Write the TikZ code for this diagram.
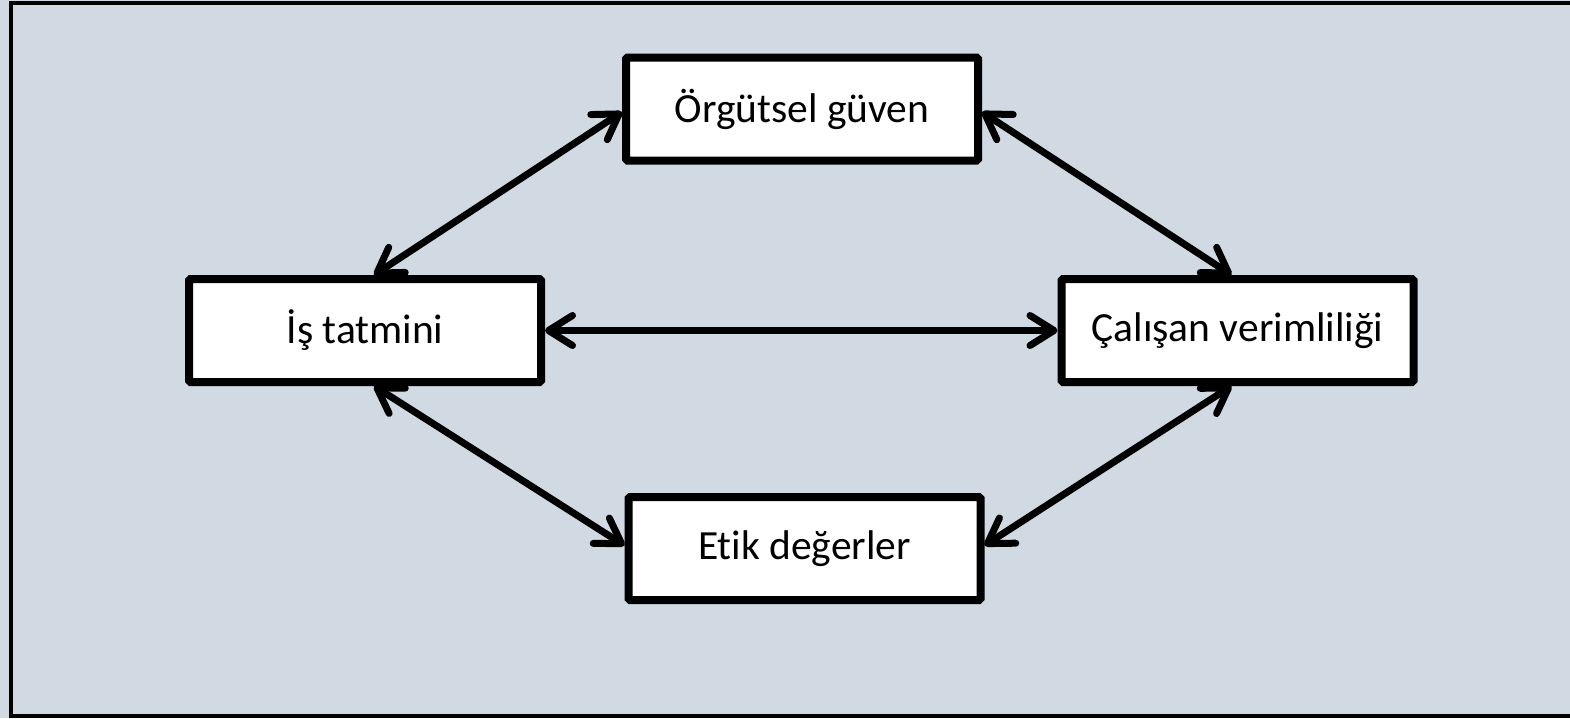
\documentclass[tikz,border=0pt]{standalone}
\usepackage{fontspec}
\setmainfont[Ligatures=NoCommon]{Carlito}
\usetikzlibrary{arrows.meta}
\definecolor{panel}{RGB}{209,218,226}
\tikzset{
  box/.style={draw=black, fill=white, line width=8pt, rounded corners=1.5pt,
    minimum width=352pt, minimum height=103pt, inner sep=0pt,
    font=\fontsize{41.5}{50}\selectfont},
  barb/.tip={Straight Barb[length=24pt, width=30pt, line cap=round, round]},
  link/.style={line width=7pt, line cap=round, {barb}-{barb}}
}
\begin{document}
\begin{tikzpicture}[x=1pt, y=-1pt]
  \useasboundingbox (0,0) rectangle (1570,718);
  \fill[panel] (0,0) rectangle (1570,718);
  \begin{scope}
    \clip (0,0) rectangle (1570,718);
    \draw[line width=4pt] (10.5,3) rectangle (1590,716);
  \end{scope}

  \node[box] (guven)  at (802,109)      {Örgütsel güven};
  \node[box] (tatmin) at (365,330.5)    {İş tatmini};
  \node[box] (verim)  at (1237.5,330.5) {Çalışan verimliliği};
  \node[box] (etik)   at (804.5,548.5)  {\raisebox{-2pt}{Etik değerler}};

  \draw[link] ([xshift=9pt]tatmin.north) -- ([yshift=-3pt]guven.west);
  \draw[link] ([yshift=-3pt]guven.east) -- ([xshift=-6pt]verim.north);
  \draw[link] (tatmin.east) -- (verim.west);
  \draw[link] ([xshift=9pt]tatmin.south) -- ([yshift=3pt]etik.west);
  \draw[link] ([xshift=-6pt]verim.south) -- ([yshift=3pt]etik.east);
\end{tikzpicture}
\end{document}
